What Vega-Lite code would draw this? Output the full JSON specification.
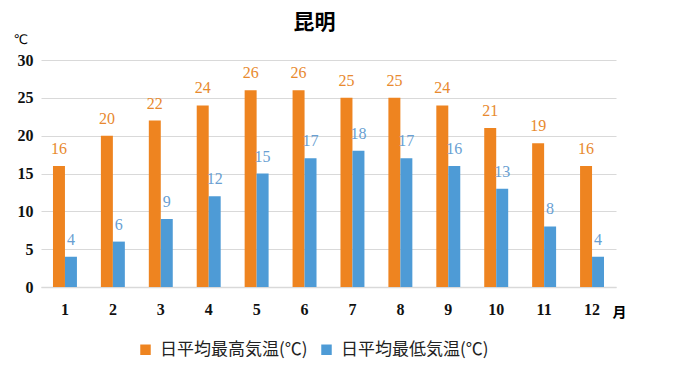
{
  "$schema": "https://vega.github.io/schema/vega-lite/v6.json",
  "width": 575,
  "height": 227,
  "autosize": {"type": "none"},
  "padding": {"left": 41, "top": 60, "right": 71, "bottom": 83},
  "background": "white",
  "title": {"text": "昆明", "font": "Noto Sans CJK JP", "fontSize": 21, "fontWeight": "bold", "color": "#000000", "anchor": "middle", "dx": -14, "offset": 0},
  "data": {"values": [
    {"month": "1", "series": "日平均最高気温(℃)", "value": 16},
    {"month": "2", "series": "日平均最高気温(℃)", "value": 20},
    {"month": "3", "series": "日平均最高気温(℃)", "value": 22},
    {"month": "4", "series": "日平均最高気温(℃)", "value": 24},
    {"month": "5", "series": "日平均最高気温(℃)", "value": 26},
    {"month": "6", "series": "日平均最高気温(℃)", "value": 26},
    {"month": "7", "series": "日平均最高気温(℃)", "value": 25},
    {"month": "8", "series": "日平均最高気温(℃)", "value": 25},
    {"month": "9", "series": "日平均最高気温(℃)", "value": 24},
    {"month": "10", "series": "日平均最高気温(℃)", "value": 21},
    {"month": "11", "series": "日平均最高気温(℃)", "value": 19},
    {"month": "12", "series": "日平均最高気温(℃)", "value": 16},
    {"month": "1", "series": "日平均最低気温(℃)", "value": 4},
    {"month": "2", "series": "日平均最低気温(℃)", "value": 6},
    {"month": "3", "series": "日平均最低気温(℃)", "value": 9},
    {"month": "4", "series": "日平均最低気温(℃)", "value": 12},
    {"month": "5", "series": "日平均最低気温(℃)", "value": 15},
    {"month": "6", "series": "日平均最低気温(℃)", "value": 17},
    {"month": "7", "series": "日平均最低気温(℃)", "value": 18},
    {"month": "8", "series": "日平均最低気温(℃)", "value": 17},
    {"month": "9", "series": "日平均最低気温(℃)", "value": 16},
    {"month": "10", "series": "日平均最低気温(℃)", "value": 13},
    {"month": "11", "series": "日平均最低気温(℃)", "value": 8},
    {"month": "12", "series": "日平均最低気温(℃)", "value": 4}
  ]},
  "encoding": {
    "x": {
      "field": "month", "type": "ordinal",
      "sort": ["1","2","3","4","5","6","7","8","9","10","11","12"],
      "scale": {"paddingInner": 0.5, "paddingOuter": 0.25},
      "axis": {
        "title": "月", "titleFont": "Noto Sans CJK JP", "titleFontSize": 14, "titleFontWeight": "bold", "titleColor": "#000000",
        "titleX": 571, "titleY": 25, "titleAlign": "left", "titleBaseline": "middle", "titleAngle": 0,
        "labelAngle": 0, "labelFont": "Liberation Serif", "labelFontSize": 16, "labelFontWeight": "bold", "labelColor": "#111111",
        "labelPadding": 14, "ticks": false, "domain": true, "domainColor": "#d9d9d9", "domainWidth": 1.5, "grid": false
      }
    },
    "xOffset": {"field": "series", "type": "nominal", "sort": ["日平均最高気温(℃)", "日平均最低気温(℃)"]},
    "y": {
      "field": "value", "type": "quantitative",
      "scale": {"domain": [0, 30]},
      "axis": {
        "values": [0, 5, 10, 15, 20, 25, 30],
        "title": "℃", "titleFont": "DejaVu Sans", "titleFontSize": 13, "titleFontWeight": "normal", "titleColor": "#000000",
        "titleAngle": 0, "titleX": -28, "titleY": -21, "titleAlign": "left", "titleBaseline": "middle",
        "labelFont": "Liberation Serif", "labelFontSize": 16, "labelFontWeight": "bold", "labelColor": "#111111", "labelPadding": 8,
        "ticks": false, "domain": false, "gridColor": "#d9d9d9", "gridWidth": 1.2
      }
    }
  },
  "layer": [
    {
      "mark": {"type": "bar"},
      "encoding": {
        "color": {
          "field": "series", "type": "nominal",
          "scale": {"domain": ["日平均最高気温(℃)", "日平均最低気温(℃)"], "range": ["#EE8420", "#4E9BD6"]},
          "legend": {
            "title": null, "orient": "none", "direction": "horizontal", "legendX": 96, "legendY": 281,
            "symbolType": "square", "symbolSize": 110, "symbolStrokeWidth": 0,
            "labelFont": "Noto Sans CJK JP", "labelFontSize": 17, "labelColor": "#222222", "labelOffset": 6,
            "columnPadding": 10, "labelLimit": 300
          }
        }
      }
    },
    {
      "mark": {"type": "text", "baseline": "bottom", "dy": -9, "font": "Liberation Serif", "fontSize": 16},
      "encoding": {
        "text": {"field": "value", "type": "quantitative"},
        "color": {
          "condition": {"test": "datum.series === '日平均最高気温(℃)'", "value": "#E8892E"},
          "value": "#6A9FD2"
        }
      }
    }
  ],
  "config": {"view": {"stroke": null}, "text": {"font": "Liberation Serif"}}
}
